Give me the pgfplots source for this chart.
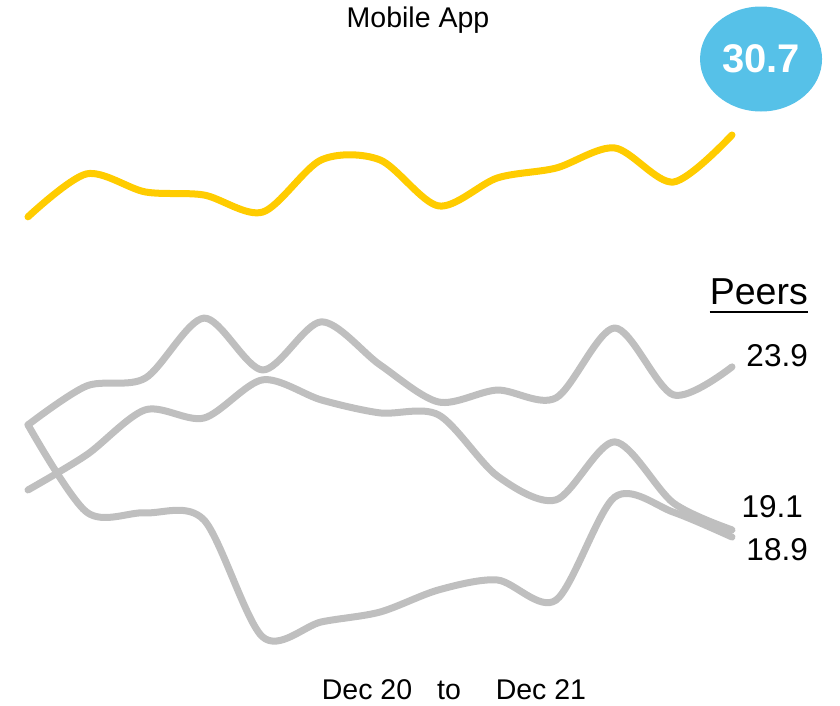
\documentclass[border=0pt]{standalone}
\usepackage{pgfplots}
\pgfplotsset{compat=1.18}
\usetikzlibrary{shapes.geometric}
\usepackage{fontspec}
\setmainfont{Liberation Sans}
\definecolor{appyellow}{HTML}{FFCC00}
\definecolor{peergray}{HTML}{BFBFBF}
\definecolor{bubble}{HTML}{56C1E8}
\begin{document}
\begin{tikzpicture}
\begin{axis}[
  scale only axis, width=840pt, height=705pt,
  xmin=-0.477, xmax=13.841, ymin=13.984, ymax=34.659,
  hide axis, clip=false,
  every axis plot/.append style={smooth, tension=0.5, line width=7pt, line cap=round, line join=round, no markers},
]
\path (rel axis cs:0,0) rectangle (rel axis cs:1,1);
% Peer A
\addplot[peergray] coordinates {
(0,22.20) (1,23.34) (2,23.57) (3,25.33) (4,23.81) (5,25.22) (6,23.96)
(7,22.87) (8,23.22) (9,22.99) (10,25.04) (11,23.08) (12,23.90)};
% Peer B
\addplot[peergray] coordinates {
(0,20.29) (1,21.32) (2,22.64) (3,22.40) (4,23.52) (5,22.93) (6,22.55)
(7,22.49) (8,20.70) (9,20.00) (10,21.70) (11,19.91) (12,19.12)};
% Peer C
\addplot[peergray] coordinates {
(0,22.20) (1,19.64) (2,19.62) (3,19.41) (4,15.98) (5,16.42) (6,16.71)
(7,17.36) (8,17.65) (9,17.06) (10,20.08) (11,19.64) (12,18.91)};
% Mobile App
\addplot[appyellow] coordinates {
(0,28.30) (1,29.56) (2,29.03) (3,28.94) (4,28.44) (5,29.97) (6,29.97)
(7,28.62) (8,29.44) (9,29.73) (10,30.32) (11,29.32) (12,30.70)};

\node[font=\fontsize{28.5}{32}\selectfont] at (rel axis cs:0.4976,0.9716) {Mobile App};
\node[ellipse, fill=bubble, minimum width=122pt, minimum height=105pt, inner sep=0pt,
      font=\fontsize{40}{44}\selectfont\bfseries, text=white] at (rel axis cs:0.906,0.9163) {30.7};
\node[font=\fontsize{37.5}{42}\selectfont, anchor=east, inner sep=0pt] (peers) at (rel axis cs:0.9619,0.5858) {Peers};
\draw[line width=2pt] ([yshift=-7pt]peers.south west) -- ([yshift=-7pt]peers.south east);
\node[font=\fontsize{31.5}{35}\selectfont, anchor=east, inner sep=0pt] at (rel axis cs:0.9619,0.4950) {23.9};
\node[font=\fontsize{31.5}{35}\selectfont, anchor=east, inner sep=0pt] at (rel axis cs:0.9560,0.2809) {19.1};
\node[font=\fontsize{31.5}{35}\selectfont, anchor=east, inner sep=0pt] at (rel axis cs:0.9619,0.2199) {18.9};
\node[font=\fontsize{28.5}{32}\selectfont] at (rel axis cs:0.4369,0.0213) {Dec 20};
\node[font=\fontsize{28.5}{32}\selectfont] at (rel axis cs:0.5345,0.0213) {to};
\node[font=\fontsize{28.5}{32}\selectfont] at (rel axis cs:0.6440,0.0213) {Dec 21};
\end{axis}
\end{tikzpicture}
\end{document}
